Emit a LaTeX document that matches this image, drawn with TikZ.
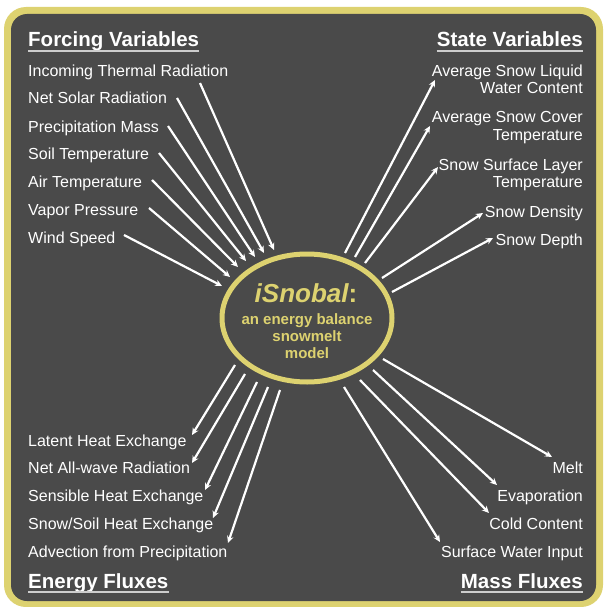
\documentclass[tikz,border=0pt]{standalone}
\usepackage{fontspec}
\setmainfont{Liberation Sans}
\usetikzlibrary{arrows.meta,shapes.geometric}
\definecolor{bgdark}{RGB}{74,74,74}
\definecolor{gold}{RGB}{221,210,112}
\definecolor{ulgray}{RGB}{205,205,205}
\begin{document}
\begin{tikzpicture}[x=1pt,y=-1pt,
  item/.style={text=white,inner sep=0pt,font=\fontsize{16}{19}\selectfont},
  ttl/.style={text=white,inner sep=0pt,font=\fontsize{20.5}{24}\selectfont\bfseries},
  core/.style={text=gold,inner sep=0pt,font=\fontsize{15}{17}\selectfont\bfseries},
  ul/.style={draw=ulgray,line width=1.5pt},
  arr/.style={draw=white,line width=2.2pt,-{Stealth[length=7pt,width=6.5pt]}},
  ringstyle/.style={ellipse,draw=gold,line width=5pt,minimum width=170pt,minimum height=128pt,inner sep=0pt}
]
\useasboundingbox (0,0) rectangle (603,607);
\fill[white] (0,0) rectangle (603,607);
\fill[gold,rounded corners=22pt] (4,7) rectangle (603,607);
\fill[bgdark,rounded corners=16pt] (11,14) rectangle (596,601);

% central model
\node[ringstyle] (ring) at (307,318) {};
\node[core,anchor=base,font=\fontsize{26}{28}\selectfont\bfseries] (name) at (306,302) {\itshape iSnobal\upshape:};
\node[core,anchor=base] (l1) at (307,324) {an energy balance};
\node[core,anchor=base] (l2) at (307,341) {snowmelt};
\node[core,anchor=base] (l3) at (307,358) {model};

% titles
\node[ttl,anchor=base west] (tf) at (28,47) {Forcing Variables};
\node[ttl,anchor=base east] (ts) at (583,47) {State Variables};
\node[ttl,anchor=base west] (te) at (28,588) {Energy Fluxes};
\node[ttl,anchor=base east] (tm) at (583,588) {Mass Fluxes};
\foreach \t in {tf,ts,te,tm}{
  \draw[ul] ([yshift=-4pt]\t.base west) -- ([yshift=-4pt]\t.base east);
}

% forcing variables
\node[item,anchor=base west] (f1) at (28,77) {Incoming Thermal Radiation};
\node[item,anchor=base west] (f2) at (28,104) {Net Solar Radiation};
\node[item,anchor=base west] (f3) at (28,132) {Precipitation Mass};
\node[item,anchor=base west] (f4) at (28,159) {Soil Temperature};
\node[item,anchor=base west] (f5) at (28,187) {Air Temperature};
\node[item,anchor=base west] (f6) at (28,215) {Vapor Pressure};
\node[item,anchor=base west] (f7) at (28,243) {Wind Speed};

% state variables
\node[item,anchor=base east] (s1) at (583,77) {Average Snow Liquid};
\node[item,anchor=base east] (s1b) at (583,94) {Water Content};
\node[item,anchor=base east] (s2) at (583,123) {Average Snow Cover};
\node[item,anchor=base east] (s2b) at (583,140) {Temperature};
\node[item,anchor=base east] (s3) at (583,170) {Snow Surface Layer};
\node[item,anchor=base east] (s3b) at (583,187) {Temperature};
\node[item,anchor=base east] (s4) at (583,217) {Snow Density};
\node[item,anchor=base east] (s5) at (583,245) {Snow Depth};

% energy fluxes
\node[item,anchor=base west] (e1) at (28,446) {Latent Heat Exchange};
\node[item,anchor=base west] (e2) at (28,473) {Net All-wave Radiation};
\node[item,anchor=base west] (e3) at (28,501) {Sensible Heat Exchange};
\node[item,anchor=base west] (e4) at (28,529) {Snow/Soil Heat Exchange};
\node[item,anchor=base west] (e5) at (28,557) {Advection from Precipitation};

% mass fluxes
\node[item,anchor=base east] (m1) at (583,473) {Melt};
\node[item,anchor=base east] (m2) at (583,501) {Evaporation};
\node[item,anchor=base east] (m3) at (583,529) {Cold Content};
\node[item,anchor=base east] (m4) at (583,557) {Surface Water Input};

% arrow end coordinates
\coordinate (fa1) at (200,83);  \coordinate (fb1) at (274,250);
\coordinate (fa2) at (177,98);  \coordinate (fb2) at (264,253);
\coordinate (fa3) at (168,126); \coordinate (fb3) at (255,257);
\coordinate (fa4) at (159,153); \coordinate (fb4) at (246,261);
\coordinate (fa5) at (152,180); \coordinate (fb5) at (238,267);
\coordinate (fa6) at (149,208); \coordinate (fb6) at (230,277);
\coordinate (fa7) at (124,235); \coordinate (fb7) at (222,286);

\coordinate (sa1) at (345,253); \coordinate (sb1) at (435,80);
\coordinate (sa2) at (355,257); \coordinate (sb2) at (430,126);
\coordinate (sa3) at (365,263); \coordinate (sb3) at (438,167);
\coordinate (sa4) at (382,278); \coordinate (sb4) at (483,213);
\coordinate (sa5) at (392,292); \coordinate (sb5) at (493,238);

\coordinate (ea1) at (235,365); \coordinate (eb1) at (192,435);
\coordinate (ea2) at (245,374); \coordinate (eb2) at (192,463);
\coordinate (ea3) at (257,382); \coordinate (eb3) at (205,490);
\coordinate (ea4) at (268,387); \coordinate (eb4) at (213,518);
\coordinate (ea5) at (280,390); \coordinate (eb5) at (228,543);

\coordinate (ma1) at (383,359); \coordinate (mb1) at (552,457);
\coordinate (ma2) at (373,370); \coordinate (mb2) at (497,485);
\coordinate (ma3) at (360,380); \coordinate (mb3) at (489,513);
\coordinate (ma4) at (344,387); \coordinate (mb4) at (440,542);

\foreach \i in {1,...,7}{ \draw[arr] (fa\i) -- (fb\i); }
\foreach \i in {1,...,5}{ \draw[arr] (sa\i) -- (sb\i); }
\foreach \i in {1,...,5}{ \draw[arr] (ea\i) -- (eb\i); }
\foreach \i in {1,...,4}{ \draw[arr] (ma\i) -- (mb\i); }
\end{tikzpicture}
\end{document}
